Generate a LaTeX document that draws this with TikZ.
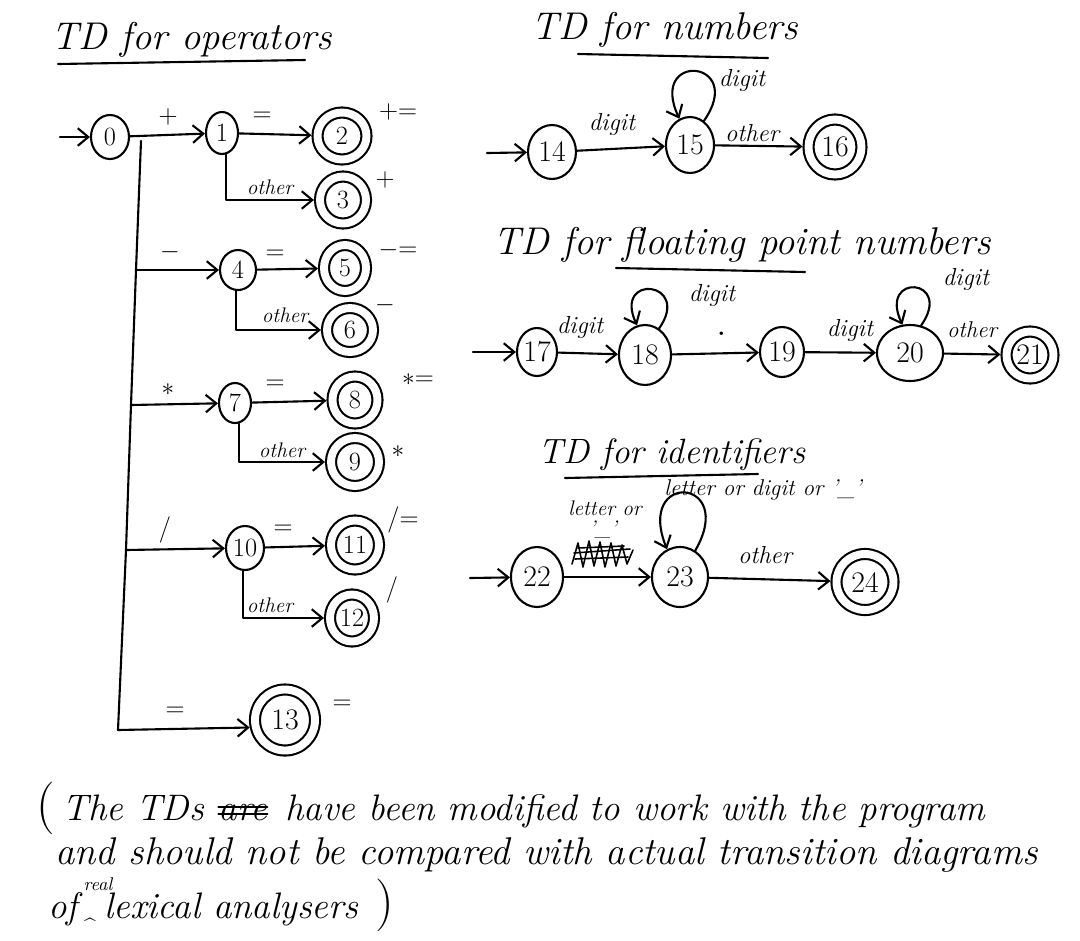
\documentclass[tikz,border=0pt]{standalone}
\usetikzlibrary{arrows.meta,shapes.geometric}
\newdimen\upx \upx=0.02cm
\begin{document}
\begin{tikzpicture}[x=0.02cm,y=-0.02cm,
  ink/.style={line width=1.2pt, line cap=round, line join=round},
  arr/.style={ink, -{Straight Barb[length=6pt,width=10pt,line width=1.2pt]}},
  sz/.style 2 args={minimum width=#1\upx, minimum height=#2\upx},
  st/.style={ellipse, draw, ink, inner sep=0pt, font=\fontsize{15}{15}\selectfont},
  big/.style={font=\fontsize{17}{17}\selectfont},
  fin/.style={st, double, double distance=4.5pt, outer sep=3.45pt},
  sym/.style={inner sep=1pt, font=\fontsize{15}{15}\selectfont},
  lab/.style={inner sep=1pt, font=\itshape\fontsize{12}{12}\selectfont},
  labb/.style={inner sep=1pt, font=\itshape\fontsize{14}{14}\selectfont},
  ttl/.style={inner sep=0pt, font=\itshape\fontsize{22}{26}\selectfont},
  note/.style={inner sep=0pt, anchor=base west, font=\itshape\fontsize{21}{26}\selectfont},
]
\useasboundingbox (0,0) rectangle (1080,941);

% ---------------- operators ----------------
\node[ttl] (t1) at (192,40) {TD for operators};
\draw[ink] (58,64) -- (305,60);

\node[st, sz={38}{44}] (n0) at (110,137) {0};
\node[st, sz={32}{42}] (n1) at (222,133) {1};
\node[fin, sz={49}{47}] (n2) at (342,136) {2};
\node[fin, sz={46}{47}] (n3) at (343,200) {3};
\node[st, sz={36}{40}] (n4) at (238,270) {4};
\node[fin, sz={42}{46}] (n5) at (345,268) {5};
\node[fin, sz={46}{44}] (n6) at (350,330) {6};
\node[st, sz={32}{40}] (n7) at (235,403) {7};
\node[fin, sz={45}{47}] (n8) at (355,400) {8};
\node[fin, sz={48}{48}] (n9) at (355,462) {9};
\node[st, sz={38}{44}] (n10) at (245,548) {10};
\node[fin, sz={48}{49}] (n11) at (355,545) {11};
\node[fin, sz={44}{47}] (n12) at (352,618) {12};
\node[fin, big, sz={60}{61}] (n13) at (285,720) {13};

% entry and trunk
\coordinate (s0) at (60,137);
\coordinate (tr) at (141,141);
\coordinate (b4) at (136,270);
\coordinate (b7) at (131,405);
\coordinate (b10) at (126,550);
\coordinate (b13) at (118,730);
\draw[arr] (s0) -- (n0);
\draw[arr] (n0) -- (n1);
\draw[ink] (tr) -- (b4) -- (b7) -- (b10) -- (b13);

\draw[arr] (n1) -- (n2);
\draw[arr] (n1.-80) |- (n3);
\draw[arr] (b4) -- (n4);
\draw[arr] (n4) -- (n5);
\draw[arr] (n4.-95) |- (n6);
\draw[arr] (b7) -- (n7);
\draw[arr] (n7) -- (n8);
\draw[arr] (n7.-80) |- (n9);
\draw[arr] (b10) -- (n10);
\draw[arr] (n10) -- (n11);
\draw[arr] (n10.-95) |- (n12);
\draw[arr] (b13) -- (n13.192);

% input labels
\node[sym] (e01) at (168,117) {+};
\node[sym] (e12) at (262,117) {=};
\node[lab] (e13) at (270,187) {other};
\node[sym] (e04) at (170,252) {$-$};
\node[sym] (e45) at (275,255) {=};
\node[lab] (e46) at (285,315) {other};
\node[sym] (e07) at (168,390) {$\ast$};
\node[sym] (e78) at (275,385) {=};
\node[lab] (e79) at (282,450) {other};
\node[sym] (e010) at (165,530) {/};
\node[sym] (e1011) at (283,530) {=};
\node[lab] (e1012) at (270,605) {other};
\node[sym] (e013) at (175,712) {=};

% emitted tokens
\node[sym] (o2) at (398,112) {+=};
\node[sym] (o3) at (385,180) {+};
\node[sym] (o5) at (398,250) {$-$=};
\node[sym] (o6) at (385,305) {$-$};
\node[sym] (o8) at (418,380) {$\ast$=};
\node[sym] (o9) at (398,452) {$\ast$};
\node[sym] (o11) at (403,520) {/=};
\node[sym] (o12) at (392,590) {/};
\node[sym] (o13) at (342,705) {=};

% ---------------- numbers ----------------
\node[ttl] (t2) at (665,30) {TD for numbers};
\draw[ink] (578,54) -- (768,58);

\node[st, big, sz={48}{54}] (n14) at (552,152) {14};
\node[st, big, sz={48}{56}] (n15) at (690,145) {15};
\node[fin, big, sz={53}{55}] (n16) at (835,147) {16};
\coordinate (s14) at (487,153);
\draw[arr] (s14) -- (n14);
\draw[arr] (n14) -- (n15);
\draw[arr] (n15) -- (n16);
\draw[arr] (n15.60) to[out=55, in=115, min distance=75\upx] (n15.112);
\node[labb] (e1415) at (612,124) {digit};
\node[labb] (e1515) at (742,80) {digit};
\node[labb] (e1516) at (752,133) {other};

% ---------------- floating point numbers ----------------
\node[ttl] (t3) at (742,245) {TD for floating point numbers};
\draw[ink] (616,268) -- (805,272);

\node[st, big, sz={40}{48}] (n17) at (537,352) {17};
\node[st, big, sz={52}{60}] (n18) at (645,355) {18};
\node[st, big, sz={44}{50}] (n19) at (782,352) {19};
\node[st, big, sz={66}{56}] (n20) at (910,353) {20};
\node[fin, big, sz={47}{47}] (n21) at (1030,355) {21};
\coordinate (s17) at (473,352);
\draw[arr] (s17) -- (n17);
\draw[arr] (n17) -- (n18);
\draw[arr] (n18) -- (n19);
\draw[arr] (n19) -- (n20);
\draw[arr] (n20) -- (n21);
\draw[arr] (n18.62) to[out=55, in=115, min distance=58\upx] (n18.105);
\draw[arr] (n20.68) to[out=55, in=115, min distance=58\upx] (n20.105);
\node[labb] (e1718) at (580,327) {digit};
\node[labb] (e1818) at (712,295) {digit};
\node[sym, font=\fontsize{24}{24}\selectfont] (e1819) at (722,334) {.};
\node[labb] (e1920) at (850,330) {digit};
\node[labb] (e2020) at (966,279) {digit};
\node[labb, font=\itshape\fontsize{13}{13}\selectfont] (e2021) at (972,330) {other};

% ---------------- identifiers ----------------
\node[ttl, font=\itshape\fontsize{20}{24}\selectfont] (t4) at (672,455) {TD for identifiers};
\draw[ink] (565,478) -- (758,474);

\node[st, big, sz={52}{60}] (n22) at (537,577) {22};
\node[st, big, sz={56}{60}] (n23) at (680,577) {23};
\node[fin, big, sz={57}{56}] (n24) at (865,582) {24};
\coordinate (s22) at (470,578);
\draw[arr] (s22) -- (n22);
\draw[arr] (n22) -- (n23);
\draw[arr] (n23) -- (n24);
\draw[arr] (n23.60) to[out=60, in=112, min distance=85\upx] (n23.115);
\node[lab] (e2223) at (605,508) {letter or};
\node[lab] (e2223b) at (603,530) {'\_'};
\draw[ink, line width=0.9pt] (572,564) -- (578,543) -- (583,567) -- (589,541) -- (594,566)
  -- (600,542) -- (605,567) -- (611,543) -- (616,566) -- (622,545) -- (627,564) -- (633,550);
\draw[ink, line width=0.9pt] (574,553) -- (630,549) (575,559) -- (628,557) (578,548) -- (624,546);
\node[lab, font=\itshape\fontsize{13}{13}\selectfont] (e2323) at (763,490) {letter or digit or '\_'};
\node[labb] (e2324) at (765,555) {other};

% ---------------- note ----------------
\node[inner sep=0pt, font=\fontsize{30}{30}\selectfont] (po) at (46,808) {(};
\node[note] (l1a) at (62,820) {The TDs};
\node[note, xshift=8pt] (l1x) at (l1a.base east) {are};
\draw[ink, line width=1pt] ([yshift=-1pt]l1x.west) -- ([yshift=-1pt]l1x.east)
  ([yshift=3pt]l1x.west) -- ([yshift=3pt]l1x.east);
\node[note, xshift=10pt] (l1b) at (l1x.base east) {have been modified to work with the program};
\node[note, font=\itshape\fontsize{22}{26}\selectfont] (l2) at (55,864) {and should not be compared with actual transition diagrams};
\node[note] (l3a) at (48,918) {of};
\node[inner sep=0pt, font=\fontsize{12}{12}\selectfont] (car) at (90,926) {\^{}};
\node[inner sep=0pt, font=\itshape\fontsize{10.5}{10.5}\selectfont] (rl) at (98,884) {real};
\node[note] (l3b) at (104,918) {lexical analysers};
\node[inner sep=0pt, font=\fontsize{30}{30}\selectfont] (pc) at (385,905) {)};
\end{tikzpicture}
\end{document}
